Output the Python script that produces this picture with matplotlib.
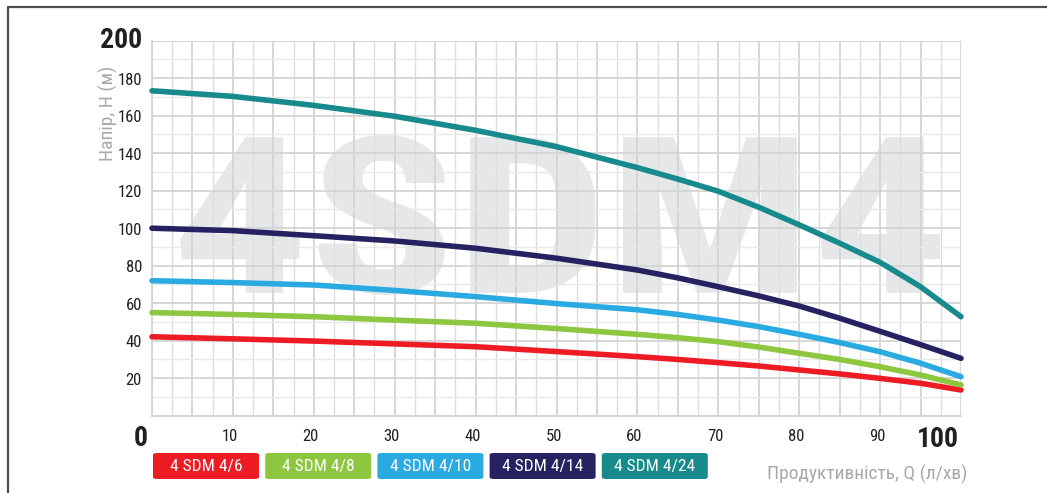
import matplotlib
matplotlib.use('Agg')
import matplotlib.pyplot as plt
from matplotlib import font_manager as fm
from matplotlib.textpath import TextPath
from matplotlib.patches import PathPatch, FancyBboxPatch
from matplotlib.font_manager import FontProperties
from matplotlib.transforms import Affine2D, offset_copy
from matplotlib.lines import Line2D

# ---------------- data ----------------
flow = [0, 10, 20, 30, 40, 50, 60, 65, 70, 75, 80, 85, 90, 95, 100]
head_4_6 = [42.1, 41.0, 39.8, 38.3, 36.8, 34.2, 31.5, 30.0, 28.3, 26.5, 24.4, 22.3, 19.9, 17.3, 13.7]
head_4_8 = [55.0, 54.0, 52.8, 51.0, 49.3, 46.5, 43.4, 41.6, 39.5, 36.6, 33.3, 30.0, 26.1, 21.7, 16.4]
head_4_10 = [72.0, 71.0, 69.7, 66.8, 63.5, 59.8, 56.5, 54.0, 51.0, 47.5, 43.4, 39.0, 34.1, 28.0, 20.8]
head_4_14 = [100.0, 98.7, 96.0, 93.2, 89.3, 84.0, 77.7, 73.5, 68.8, 63.9, 58.5, 52.0, 45.0, 37.9, 30.6]
head_4_24 = [173.3, 170.3, 165.5, 159.7, 152.2, 143.5, 132.3, 126.2, 119.7, 111.2, 101.8, 92.0, 81.8, 68.8, 52.8]

series_names = ['4 SDM 4/6', '4 SDM 4/8', '4 SDM 4/10', '4 SDM 4/14', '4 SDM 4/24']
series_colors = ['#ed1c24', '#8dc63f', '#29abe2', '#262262', '#168a8c']
series_values = [head_4_6, head_4_8, head_4_10, head_4_14, head_4_24]

x_tick_labels = [10, 20, 30, 40, 50, 60, 70, 80, 90]
y_tick_labels = [20, 40, 60, 80, 100, 120, 140, 160, 180]
x_label = 'Продуктивність, Q (л/хв)'
y_label = 'Напір, Н (м)'
watermark = '4SDM4'

# ---------------- fonts ----------------
available = {f.name for f in fm.fontManager.ttflist}
cond = next((f for f in ['Liberation Sans Narrow', 'DejaVu Sans Condensed', 'Roboto Condensed']
             if f in available), 'DejaVu Sans')
plt.rcParams['font.family'] = [cond, 'DejaVu Sans']

W, H = 1047, 493
fig = plt.figure(figsize=(W / 100, H / 100), dpi=100)
fig.patch.set_facecolor('white')

ax_l, ax_r, ax_t, ax_b = 152, 961, 40.7, 415.7
ax = fig.add_axes([ax_l / W, 1 - ax_b / H, (ax_r - ax_l) / W, (ax_b - ax_t) / H])
ax.set_xlim(0, 100)
ax.set_ylim(0, 200)

# grid
for i in range(41):
    q = i * 2.5
    major = i % 2 == 0
    ax.axvline(q, color='#d4d4d4' if major else '#dedede', lw=1.3 if major else 1.0, zorder=1)
for h in range(0, 201, 10):
    major = h % 20 == 0
    ax.axhline(h, color='#d4d4d4' if major else '#e8e8e8', lw=1.3 if major else 1.0, zorder=1)
for s in ax.spines.values():
    s.set_color('#d4d4d4')
    s.set_linewidth(1.3)
ax.spines['top'].set_visible(False)
ax.spines['right'].set_visible(False)
ax.set_xticks([])
ax.set_yticks([])

# watermark
fp = FontProperties(family=cond, weight='bold')
tp = TextPath((0, 0), watermark, size=100, prop=fp)
ext = tp.get_extents()
wx0, wx1, wy0, wy1 = 3.5, 97.4, 64.4, 149.7
tr = (Affine2D().translate(-ext.x0, -ext.y0)
      .scale((wx1 - wx0) / ext.width, (wy1 - wy0) / ext.height)
      .translate(wx0, wy0))
ax.add_patch(PathPatch(tr.transform_path(tp), facecolor='#e6e7e8', edgecolor='none', zorder=0.5))

# curves
for vals, col in zip(series_values, series_colors):
    ax.plot(flow, vals, color=col, lw=4.0, solid_capstyle='round', solid_joinstyle='round',
            zorder=3, clip_on=False)

tick_color = '#231f20'
# y tick labels
ytr = offset_copy(ax.transData, fig=fig, x=-10, y=-2, units='dots')
for v in y_tick_labels:
    ax.text(0, v, str(v), transform=ytr, ha='right', va='center', fontsize=12, color=tick_color)
ax.text(0, 200, '200', transform=offset_copy(ax.transData, fig=fig, x=-10, y=0, units='dots'),
        ha='right', va='center', fontsize=20, fontweight='bold', color=tick_color)
# x tick labels
xtr = offset_copy(ax.transData, fig=fig, x=-3, y=-21, units='dots')
for v in x_tick_labels:
    ax.text(v, 0, str(v), transform=xtr, ha='center', va='center', fontsize=12, color=tick_color)
ax.text(0, 0, '0', transform=offset_copy(ax.transData, fig=fig, x=-11, y=-23, units='dots'),
        ha='center', va='center', fontsize=20, fontweight='bold', color=tick_color)
ax.text(100, 0, '100', transform=offset_copy(ax.transData, fig=fig, x=-2, y=-24, units='dots'),
        ha='right', va='center', fontsize=20, fontweight='bold', color=tick_color)

# axis labels
fig.text(108 / W, 1 - 113 / H, y_label, rotation=90, ha='center', va='center',
         fontsize=14, color='#a7a9ac')
fig.text(967 / W, 1 - 474 / H, x_label, ha='right', va='center', fontsize=14, color='#a7a9ac')

# legend boxes
bx0, bstep, bw, by0, by1 = 153, 112.2, 106, 453, 479
for i, (name, col) in enumerate(zip(series_names, series_colors)):
    x = bx0 + i * bstep
    box = FancyBboxPatch((x / W, 1 - by1 / H), bw / W, (by1 - by0) / H,
                         boxstyle='round,pad=0,rounding_size=0.004',
                         transform=fig.transFigure, facecolor=col, edgecolor='none')
    fig.add_artist(box)
    fig.text((x + bw / 2) / W, 1 - (by0 + by1) / 2 / H, name, ha='center', va='center',
             fontsize=12.5, color='white')

# outer frame (top and left lines)
fig.add_artist(Line2D([8 / W, 8 / W, 1.0], [0.0, 1 - 7 / H, 1 - 7 / H], transform=fig.transFigure,
                      color='#4d4d4d', lw=1.6))

fig.savefig('out.png', dpi=100, facecolor='white')
